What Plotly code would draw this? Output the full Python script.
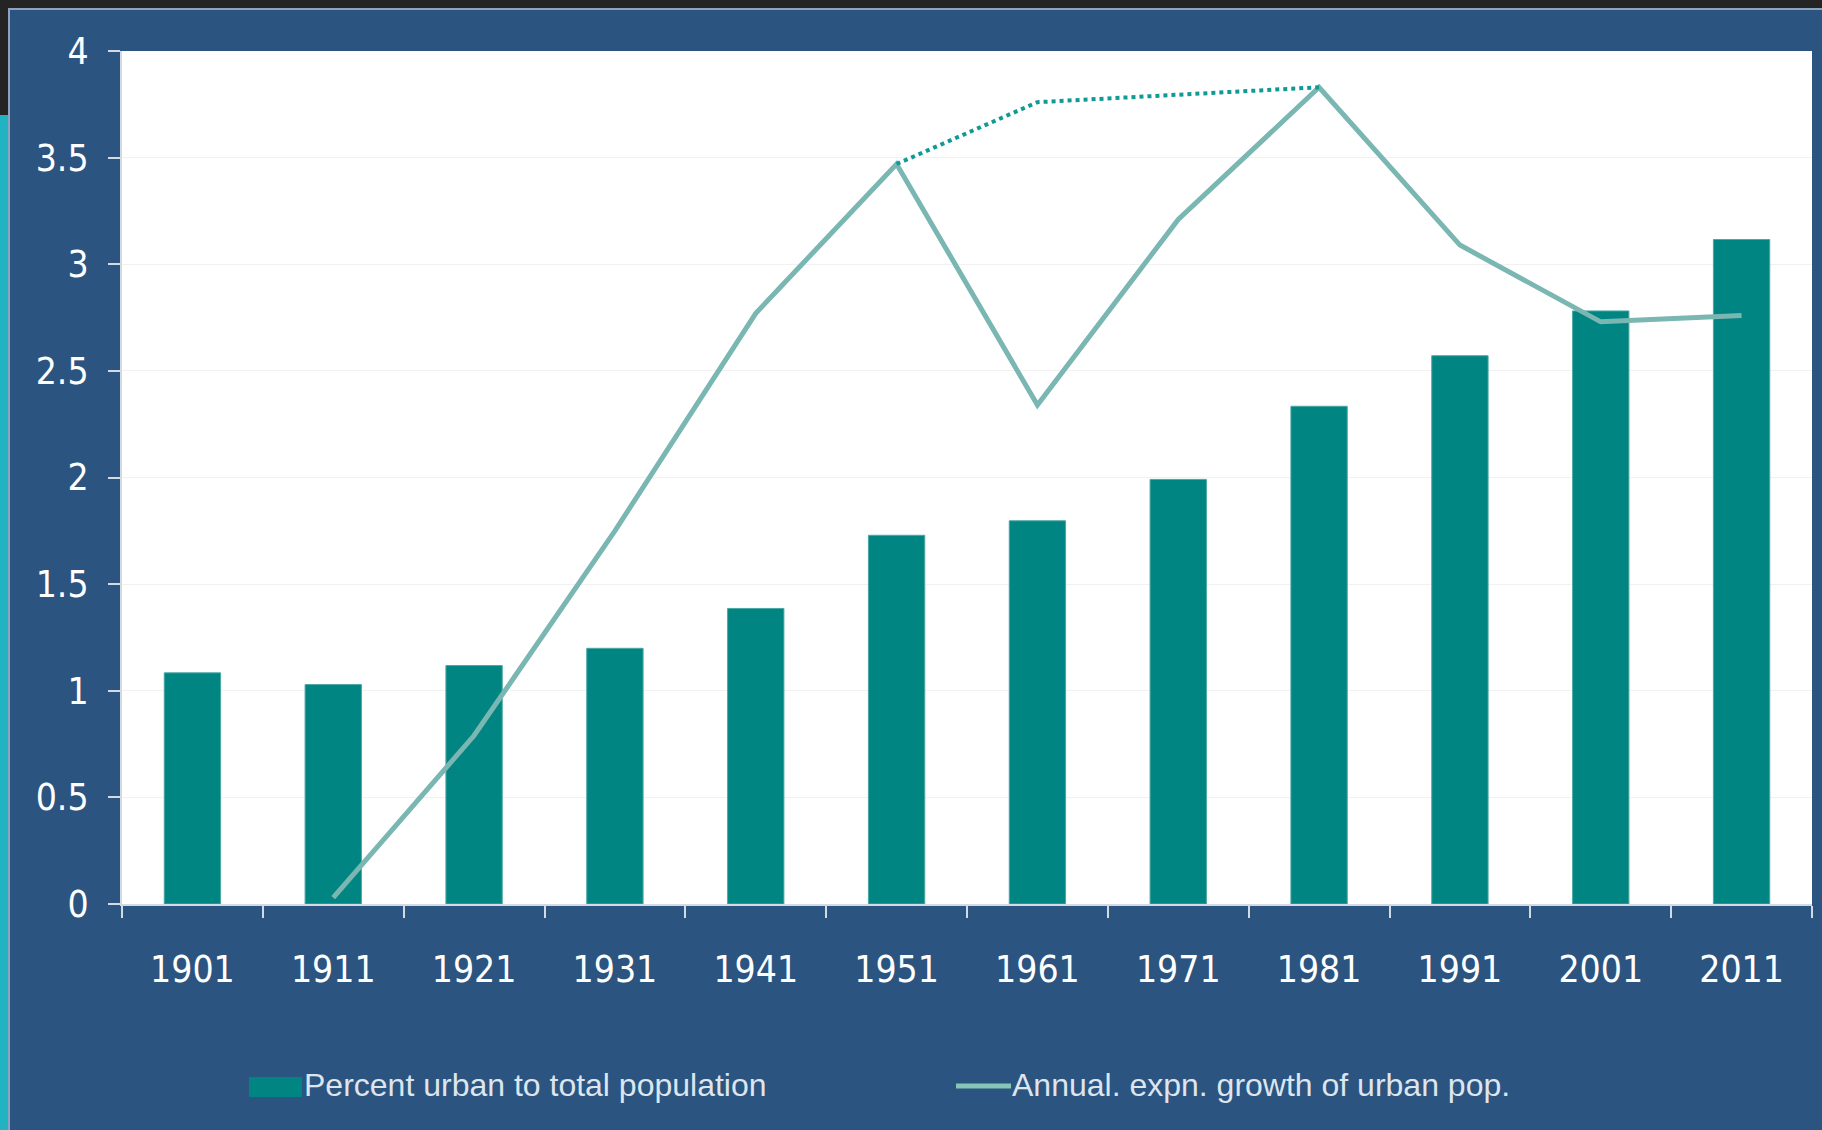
import plotly.graph_objects as go

# Census years and the two series
years = ["1901", "1911", "1921", "1931", "1941", "1951",
         "1961", "1971", "1981", "1991", "2001", "2011"]
# Percent urban to total population (plotted in tens of percent)
pct_urban = [1.084, 1.029, 1.118, 1.199, 1.386, 1.729,
             1.797, 1.991, 2.334, 2.571, 2.781, 3.116]
# Annual exponential growth of urban population (%)
growth_years = ["1911", "1921", "1931", "1941", "1951", "1961",
                "1971", "1981", "1991", "2001", "2011"]
growth = [0.03, 0.79, 1.75, 2.77, 3.47, 2.34, 3.21, 3.83, 3.09, 2.73, 2.76]
# Dotted envelope over the 1951-1981 dip
trend_years = ["1951", "1961", "1981"]
trend = [3.47, 3.76, 3.83]

legend_labels = ["Percent urban to total population",
                 "Annual. expn. growth of urban pop."]

W, H = 1822, 1130
L, R, T, B = 122, 10, 51, 226
PW, PH = W - L - R, H - T - B

BLUE = "#2b5480"
TEAL = "#008582"
LINE = "#7ab6b2"
DOT = "#0f9a96"
AXIS = "#d3dae3"
TICKFONT = "DejaVu Sans Condensed, Liberation Sans Narrow, Liberation Sans, sans-serif"


def px(x):
    return (x - L) / PW


def py(y):
    return (H - B - y) / PH


fig = go.Figure()
fig.add_trace(go.Bar(
    x=years, y=pct_urban, name=legend_labels[0],
    marker=dict(color=TEAL, line=dict(color="#4aa8a4", width=1)),
    showlegend=False, hoverinfo="x+y",
))
fig.add_trace(go.Scatter(
    x=growth_years, y=growth, name=legend_labels[1], mode="lines",
    line=dict(color=LINE, width=5),
    showlegend=False,
))
fig.add_trace(go.Scatter(
    x=trend_years, y=trend, mode="lines",
    line=dict(color=DOT, width=4, dash="4px,4px"),
    showlegend=False,
))

shapes = [
    # window frame: dark top band and cyan strip down the left side
    dict(type="rect", xref="paper", yref="paper", x0=px(-5), x1=px(W + 5),
         y0=py(8), y1=py(-5), fillcolor="#242424", line=dict(width=0), layer="below"),
    dict(type="rect", xref="paper", yref="paper", x0=px(-5), x1=px(8),
         y0=py(115), y1=py(-5), fillcolor="#242424", line=dict(width=0), layer="below"),
    dict(type="rect", xref="paper", yref="paper", x0=px(-5), x1=px(8),
         y0=py(H + 5), y1=py(115), fillcolor="#22b3c3", line=dict(width=0), layer="below"),
    dict(type="line", xref="paper", yref="paper", x0=px(8), x1=px(W + 5),
         y0=py(9), y1=py(9), line=dict(color="#8ea3bd", width=2), layer="below"),
    dict(type="line", xref="paper", yref="paper", x0=px(9), x1=px(9),
         y0=py(9), y1=py(H + 5), line=dict(color="#8ea3bd", width=2), layer="below"),
    # legend swatches
    dict(type="rect", xref="paper", yref="paper", x0=px(249), x1=px(302),
         y0=py(1097), y1=py(1077), fillcolor=TEAL, line=dict(width=0)),
    dict(type="line", xref="paper", yref="paper", x0=px(956), x1=px(1011),
         y0=py(1086), y1=py(1086), line=dict(color="#86c5b8", width=5)),
]

annotations = [
    dict(text=legend_labels[0], xref="paper", yref="paper", x=px(302), y=py(1085),
         xanchor="left", yanchor="middle", showarrow=False,
         font=dict(family="Liberation Sans, Arial, sans-serif", size=32, color="#dde5ee")),
    dict(text=legend_labels[1], xref="paper", yref="paper", x=px(1010), y=py(1085),
         xanchor="left", yanchor="middle", showarrow=False,
         font=dict(family="Liberation Sans, Arial, sans-serif", size=32, color="#dde5ee")),
]

fig.update_layout(
    width=W, height=H,
    margin=dict(l=L, r=R, t=T, b=B, pad=0),
    paper_bgcolor=BLUE, plot_bgcolor="white",
    bargap=0.6,
    shapes=shapes, annotations=annotations,
    showlegend=False,
    xaxis=dict(
        type="category", tickson="boundaries", ticks="outside", ticklen=12,
        tickwidth=2, tickcolor=AXIS, showline=True, linecolor=AXIS, linewidth=2,
        showgrid=False, ticklabelstandoff=32,
        tickfont=dict(family=TICKFONT, size=37, color="white"),
    ),
    yaxis=dict(
        range=[0, 4], dtick=0.5, tick0=0, ticks="outside", ticklen=12,
        tickwidth=2, tickcolor=AXIS, showline=True, linecolor=AXIS, linewidth=2,
        showgrid=True, gridcolor="#f1f1f1", gridwidth=1, zeroline=False,
        ticklabelstandoff=12,
        tickfont=dict(family=TICKFONT, size=37, color="white"),
    ),
)

fig.write_html("out.html")
